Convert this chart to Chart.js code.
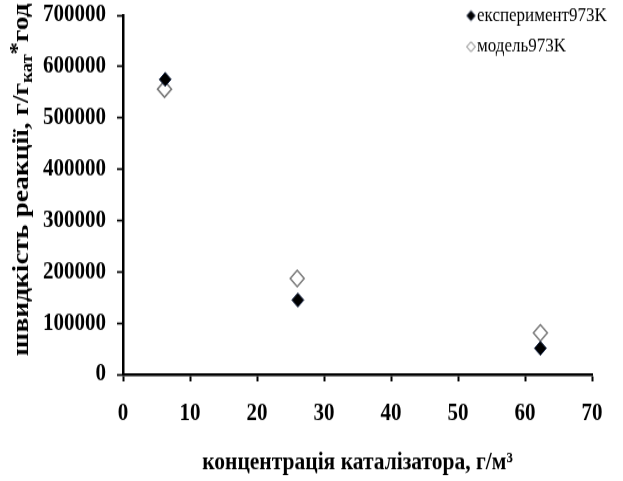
<!DOCTYPE html>
<html>
<head>
<meta charset="utf-8">
<script src="https://cdn.jsdelivr.net/npm/chart.js@4"></script>
<style>
  html, body { margin: 0; padding: 0; background: #ffffff; }
  #wrap { width: 623px; height: 481px; position: relative; }
  /* the figure is drawn on a shorter canvas and stretched to its full height */
  #chart { position: absolute; left: 0; top: 0; width: 623px; height: 411px; transform: scaleY(1.17); transform-origin: 0 0; }
</style>
</head>
<body>
<div id="wrap"><canvas id="chart" width="623" height="411"></canvas></div>
<script>
// Series data: catalyst concentration (g/m^3) vs reaction rate
const seriesNames = ['експеримент973K', 'модель973K'];
const experimentX = [6.3, 26.1, 62.3];
const experimentY = [575000, 145000, 51000];
const modelX = [6.2, 26.0, 62.3];
const modelY = [556000, 187000, 81000];

// Axis ticks and titles
const xTicks = [0, 10, 20, 30, 40, 50, 60, 70];
const yTicks = [0, 100000, 200000, 300000, 400000, 500000, 600000, 700000];
const xTitle = 'концентрація каталізатора, г/м³';
const yTitleMain = 'швидкість реакції, г/г';
const yTitleSub = 'кат';
const yTitleStar = '*';
const yTitleEnd = 'год';

const SERIF = '"Liberation Serif", "Times New Roman", serif';

// Small diamond glyph for the legend, placed right of centre in its canvas
function legendDiamond(w, h, fill, stroke, lw, canvasW, cx) {
  const c = document.createElement('canvas');
  c.width = canvasW;
  c.height = Math.ceil(h + lw + 2);
  const g = c.getContext('2d');
  const y0 = c.height / 2;
  g.beginPath();
  g.moveTo(cx, y0 - h / 2);
  g.lineTo(cx + w / 2, y0);
  g.lineTo(cx, y0 + h / 2);
  g.lineTo(cx - w / 2, y0);
  g.closePath();
  g.fillStyle = fill;
  g.fill();
  g.lineWidth = lw;
  g.strokeStyle = stroke;
  g.stroke();
  return c;
}

const legendMarks = [
  legendDiamond(8.5, 8.5, '#000000', '#1c2b4a', 0.8, 20, 13.5),
  legendDiamond(8.5, 8.5, '#ffffff', '#6f6f6f', 1, 20, 13.5)
];

// Rotated y-axis title with subscript and raised asterisk
const yAxisTitle = {
  id: 'yAxisTitle',
  afterDraw(chart) {
    const ctx = chart.ctx;
    const segs = [
      { t: yTitleMain, f: 'bold 23.5px ' + SERIF, dy: 0 },
      { t: yTitleSub, f: 'bold 16px ' + SERIF, dy: 4 },
      { t: yTitleStar, f: 'bold 21px ' + SERIF, dy: -4 },
      { t: yTitleEnd, f: 'bold 23.5px ' + SERIF, dy: 0 }
    ];
    ctx.save();
    ctx.translate(28, 153.5);
    ctx.rotate(-Math.PI / 2);
    ctx.fillStyle = '#000000';
    ctx.textBaseline = 'alphabetic';
    ctx.textAlign = 'left';
    let total = 0;
    segs.forEach(s => { ctx.font = s.f; s.w = ctx.measureText(s.t).width; total += s.w; });
    let x = -total / 2;
    segs.forEach(s => { ctx.font = s.f; ctx.fillText(s.t, x, s.dy); x += s.w; });
    ctx.restore();
  }
};

// Moves the legend block into the upper-right corner of the plot
const legendPlacement = {
  id: 'legendPlacement',
  afterLayout(chart) {
    const lg = chart.legend;
    if (!lg) return;
    const w = lg.width, h = lg.height;
    lg.left = 457; lg.right = 457 + w;
    lg.top = -4.6; lg.bottom = -4.6 + h;
  }
};

const tickFont = { family: SERIF, size: 21, weight: 'bold' };

new Chart(document.getElementById('chart'), {
  type: 'scatter',
  data: {
    datasets: [
      {
        label: seriesNames[0],
        data: experimentX.map((x, i) => ({ x: x, y: experimentY[i] })),
        pointStyle: 'rectRot',
        pointRadius: 6,
        pointBorderWidth: 1,
        backgroundColor: '#000000',
        borderColor: '#1c2b4a'
      },
      {
        label: seriesNames[1],
        data: modelX.map((x, i) => ({ x: x, y: modelY[i] })),
        pointStyle: 'rectRot',
        pointRadius: 7,
        pointBorderWidth: 1.5,
        backgroundColor: '#ffffff',
        borderColor: '#7a7a7a'
      }
    ]
  },
  options: {
    responsive: false,
    devicePixelRatio: 1,
    animation: false,
    layout: { padding: { top: 13, right: 31, bottom: 0, left: 0 } },
    plugins: {
      tooltip: { enabled: false },
      legend: {
        position: 'chartArea',
        align: 'start',
        labels: {
          usePointStyle: true,
          boxWidth: 2,
          padding: 9.5,
          color: '#000000',
          font: { family: SERIF, size: 17 },
          generateLabels(chart) {
            const items = Chart.defaults.plugins.legend.labels.generateLabels(chart);
            items.forEach((it, i) => { it.pointStyle = legendMarks[i]; });
            return items;
          }
        }
      }
    },
    scales: {
      x: {
        type: 'linear',
        min: 0,
        max: 70,
        afterBuildTicks: s => { s.ticks = xTicks.map(v => ({ value: v })); },
        afterFit: s => { s.height = 91; s.paddingLeft = 0; s.paddingRight = 0; },
        grid: { drawOnChartArea: false, drawTicks: true, tickLength: 6, tickWidth: 2, tickColor: '#000000' },
        border: { display: true, color: '#000000', width: 2.6 },
        ticks: { color: '#000000', padding: 15, font: tickFont, maxRotation: 0, autoSkip: false },
        title: {
          display: true,
          text: xTitle,
          color: '#000000',
          font: { family: SERIF, size: 21.5, weight: 'bold' },
          padding: { top: 0, bottom: 2.5 }
        }
      },
      y: {
        type: 'linear',
        min: 0,
        max: 700000,
        afterBuildTicks: s => { s.ticks = yTicks.map(v => ({ value: v })); },
        afterFit: s => { s.width = 123; s.paddingTop = 0; s.paddingBottom = 0; },
        grid: { drawOnChartArea: false, drawTicks: true, tickLength: 6, tickWidth: 1.7, tickColor: '#000000' },
        border: { display: true, color: '#000000', width: 2.5 },
        ticks: { color: '#000000', padding: 11, font: tickFont, autoSkip: false, callback: v => String(v) }
      }
    }
  },
  plugins: [legendPlacement, yAxisTitle]
});
</script>
</body>
</html>
